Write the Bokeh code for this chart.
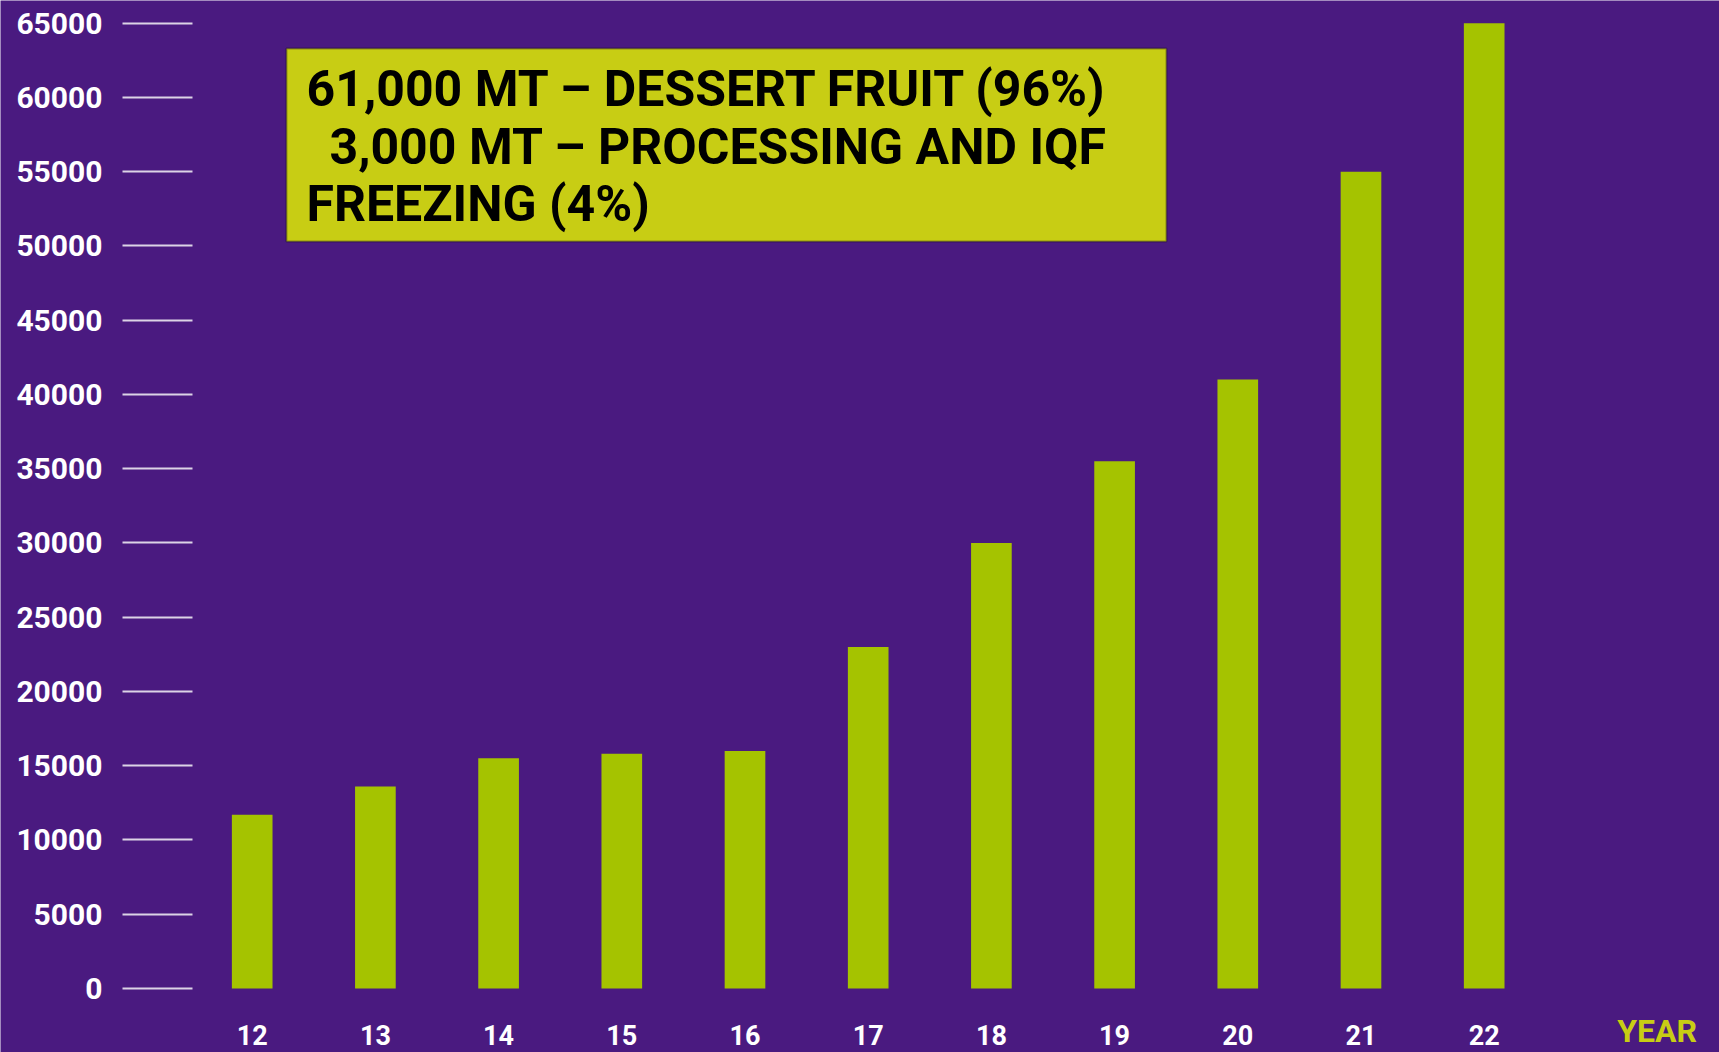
from bokeh.plotting import figure
from bokeh.models import FixedTicker, Range1d, BoxAnnotation, Label
from bokeh.embed import file_html
from bokeh.resources import INLINE

years = [12, 13, 14, 15, 16, 17, 18, 19, 20, 21, 22]
tonnes = [11700, 13600, 15500, 15800, 16000, 23000, 30000, 35500, 41000, 55000, 65000]
y_ticks = [0, 5000, 10000, 15000, 20000, 25000, 30000, 35000, 40000, 45000, 50000, 55000, 60000, 65000]
note_lines = ["61,000 MT \u2013 DESSERT FRUIT (96%)",
              "3,000 MT \u2013 PROCESSING AND IQF",
              "FREEZING (4%)"]
x_title = "YEAR"

BG = "#4A1A80"
BAR = "#A5C300"
BOX = "#C8CD14"

W, H = 1719, 1052
p = figure(width=W, height=H, output_backend="svg", toolbar_location=None,
           x_range=Range1d(9.957, 23.910), y_range=Range1d(-4309, 66528),
           min_border_left=0, min_border_right=0, min_border_top=0, min_border_bottom=0)
p.background_fill_color = BG
p.border_fill_color = BG
p.outline_line_color = None
p.grid.visible = False

p.vbar(x=years, top=tonnes, width=0.33, fill_color=BAR, line_color=None)

ya = p.yaxis[0]
ya.ticker = FixedTicker(ticks=y_ticks)
ya.fixed_location = 11.515
ya.axis_line_color = None
ya.major_tick_out = 70
ya.major_tick_in = 0
ya.minor_tick_line_color = None
ya.major_tick_line_color = "#DCD3E6"
ya.major_tick_line_width = 2
ya.major_label_standoff = 20
ya.major_label_text_color = "white"
ya.major_label_text_font = "Roboto"
ya.major_label_text_font_style = "bold"
ya.major_label_text_font_size = "30px"

xa = p.xaxis[0]
xa.ticker = FixedTicker(ticks=years)
xa.fixed_location = 0
xa.axis_line_color = None
xa.major_tick_line_color = None
xa.minor_tick_line_color = None
xa.major_label_standoff = 30
xa.major_label_text_color = "white"
xa.major_label_text_font = "Roboto"
xa.major_label_text_font_style = "bold"
xa.major_label_text_font_size = "27px"

p.add_layout(BoxAnnotation(left=12.278, right=19.421, bottom=50300, top=63296,
                           fill_color=BOX, fill_alpha=1.0, line_color="black", line_width=2))

xs = [12.441, 12.627, 12.441]
ys = [60602, 56697, 52825]
for t, x, y in zip(note_lines, xs, ys):
    p.add_layout(Label(x=x, y=y, text=t, text_font="Roboto", text_font_style="bold",
                       text_font_size="50px", text_color="black", text_baseline="alphabetic"))

p.add_layout(Label(x=23.08, y=-1550, text=x_title, text_font="Roboto", text_font_style="bold",
                   text_font_size="32px", text_color=BOX, text_baseline="top"))

open("out.html", "w").write(file_html(p, INLINE))
